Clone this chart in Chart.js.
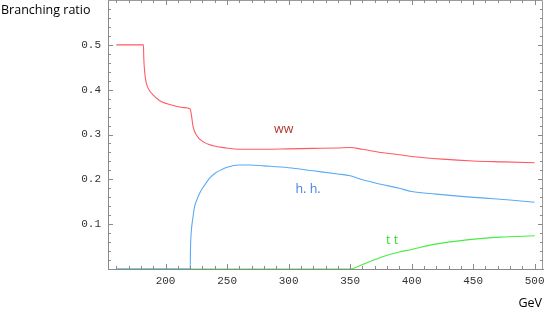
<!DOCTYPE html>
<html>
<head>
<meta charset="utf-8">
<script src="https://cdn.jsdelivr.net/npm/chart.js@4"></script>
<style>
  html, body { margin: 0; padding: 0; background: #fff; }
  #wrap { width: 545px; height: 313px; position: relative; }
</style>
</head>
<body>
<div id="wrap"><canvas id="c" width="545" height="313"></canvas></div>
<script>
// ---- Data ----
const wwMass = [160, 182, 182.3, 183, 184.3, 186.5, 189.6, 195, 200.6, 208.7, 215, 220, 221.2, 222.3, 225, 230.4, 238.6, 249.5, 260, 280, 300, 320, 340, 350, 360, 375, 390, 400, 425, 450, 475, 500];
const wwBR   = [0.5, 0.5, 0.47, 0.44, 0.415, 0.40, 0.389, 0.376, 0.369, 0.363, 0.360, 0.357, 0.340, 0.318, 0.299, 0.284, 0.275, 0.270, 0.267, 0.267, 0.268, 0.269, 0.270, 0.271, 0.267, 0.260, 0.255, 0.251, 0.245, 0.241, 0.239, 0.237];

const hhMass = [160, 220, 220.3, 221, 222, 223.6, 225.5, 227.7, 230, 233, 236, 240, 245, 250, 260, 268, 280, 300, 320, 340, 350, 360, 375, 390, 400, 420, 440, 460, 480, 500];
const hhBR   = [0, 0, 0.05, 0.087, 0.11, 0.139, 0.155, 0.169, 0.18, 0.192, 0.203, 0.213, 0.221, 0.227, 0.232, 0.232, 0.230, 0.226, 0.219, 0.212, 0.208, 0.199, 0.189, 0.180, 0.173, 0.167, 0.162, 0.158, 0.154, 0.149];

const ttMass = [160, 350, 360, 377, 390, 399, 418, 445, 472, 500];
const ttBR   = [0, 0, 0.01, 0.028, 0.038, 0.043, 0.055, 0.065, 0.071, 0.074];

const xTickLabels = [200, 250, 300, 350, 400, 450, 500];
const yTickLabels = [0.1, 0.2, 0.3, 0.4, 0.5];
const xMinorTicks = [160, 170, 180, 190, 200, 210, 220, 230, 240, 250, 260, 270, 280, 290, 300, 310, 320, 330, 340, 350, 360, 370, 380, 390, 400, 410, 420, 430, 440, 450, 460, 470, 480, 490, 500];
const yMinorTicks = [0.02, 0.04, 0.06, 0.08, 0.1, 0.12, 0.14, 0.16, 0.18, 0.2, 0.22, 0.24, 0.26, 0.28, 0.3, 0.32, 0.34, 0.36, 0.38, 0.4, 0.42, 0.44, 0.46, 0.48, 0.5, 0.52, 0.54, 0.56, 0.58];

const curveNames = ['ww', 'h. h.', 't t'];
const labelX = [296, 315.8, 384.2];
const labelY = [0.303, 0.170, 0.056];

const yAxisTitle = 'Branching ratio';
const xAxisTitle = 'GeV';

const toPts = (xs, ys) => xs.map((x, i) => ({ x: x, y: ys[i] }));

const tickPlugin = {
  id: 'frameTicks',
  afterDatasetsDraw(chart) {
    const ctx = chart.ctx, a = chart.chartArea;
    const xs = chart.scales.x, ys = chart.scales.y;
    ctx.save();
    // frame top/right
    ctx.strokeStyle = '#9a9a9a';
    ctx.lineWidth = 1;
    ctx.beginPath();
    ctx.moveTo(a.left, a.top + 0.5); ctx.lineTo(a.right - 0.5, a.top + 0.5);
    ctx.lineTo(a.right - 0.5, a.bottom);
    ctx.stroke();
    ctx.strokeStyle = '#8a8a8a';
    ctx.beginPath();
    xMinorTicks.forEach(v => {
      const px = Math.round(xs.getPixelForValue(v)) + 0.5;
      const len = xTickLabels.includes(v) ? 5 : 3;
      ctx.moveTo(px, a.bottom); ctx.lineTo(px, a.bottom - len);
      ctx.moveTo(px, a.top); ctx.lineTo(px, a.top + len);
    });
    yMinorTicks.forEach(v => {
      const py = Math.round(ys.getPixelForValue(v)) + 0.5;
      const major = yTickLabels.some(t => Math.abs(t - v) < 1e-9);
      const len = major ? 5 : 3;
      ctx.moveTo(a.left, py); ctx.lineTo(a.left + len, py);
      ctx.moveTo(a.right, py); ctx.lineTo(a.right - len, py);
    });
    ctx.stroke();
    // curve labels
    const cols = ['#b0362e', '#3f82e4', '#33dd33'];
    ctx.font = '12.5px "Open Sans", sans-serif';
    ctx.textAlign = 'center';
    ctx.textBaseline = 'alphabetic';
    curveNames.forEach((n, i) => {
      ctx.fillStyle = cols[i];
      ctx.fillText(n, xs.getPixelForValue(labelX[i]), ys.getPixelForValue(labelY[i]));
    });
    // axis titles
    ctx.fillStyle = '#000';
    ctx.font = '12.5px "Open Sans", sans-serif';
    ctx.textAlign = 'left';
    ctx.fillText(yAxisTitle, 1, 14);
    ctx.textAlign = 'right';
    ctx.fillText(xAxisTitle, 542, 307);
    ctx.restore();
  }
};

new Chart(document.getElementById('c'), {
  type: 'scatter',
  data: {
    datasets: [
      { label: 'WW', data: toPts(wwMass, wwBR), borderColor: '#ff5a64', order: 1 },
      { label: 'hh', data: toPts(hhMass, hhBR), borderColor: '#5aaaf5', order: 2 },
      { label: 'tt', data: toPts(ttMass, ttBR), borderColor: '#44ee44', order: 3 }
    ].map(d => Object.assign(d, { showLine: true, pointRadius: 0, borderWidth: 1.1, cubicInterpolationMode: 'monotone', fill: false }))
  },
  options: {
    responsive: false,
    animation: false,
    devicePixelRatio: 1,
    layout: { padding: { top: 0, right: 2, left: 0, bottom: 0 } },
    plugins: { legend: { display: false }, tooltip: { enabled: false }, title: { display: false } },
    scales: {
      x: {
        type: 'linear', min: 153.2, max: 506.8,
        afterBuildTicks: s => { s.ticks = xTickLabels.map(v => ({ value: v })); },
        afterFit: s => { s.height = 44; s.paddingLeft = 0; s.paddingRight = 0; },
        grid: { display: false, drawTicks: false },
        border: { display: true, color: '#8a8a8a', width: 1 },
        ticks: { color: '#333', font: { family: '"Liberation Mono", monospace', size: 11 }, padding: 5, maxRotation: 0, autoSkip: false }
      },
      y: {
        type: 'linear', min: 0, max: 0.6,
        afterBuildTicks: s => { s.ticks = yTickLabels.map(v => ({ value: v })); },
        afterFit: s => { s.width = 108; s.paddingTop = 0; s.paddingBottom = 0; },
        grid: { display: false, drawTicks: false },
        border: { display: true, color: '#8a8a8a', width: 1 },
        ticks: { color: '#333', font: { family: '"Liberation Mono", monospace', size: 11 }, padding: 7, callback: v => v.toFixed(1) }
      }
    }
  },
  plugins: [tickPlugin]
});
</script>
</body>
</html>
